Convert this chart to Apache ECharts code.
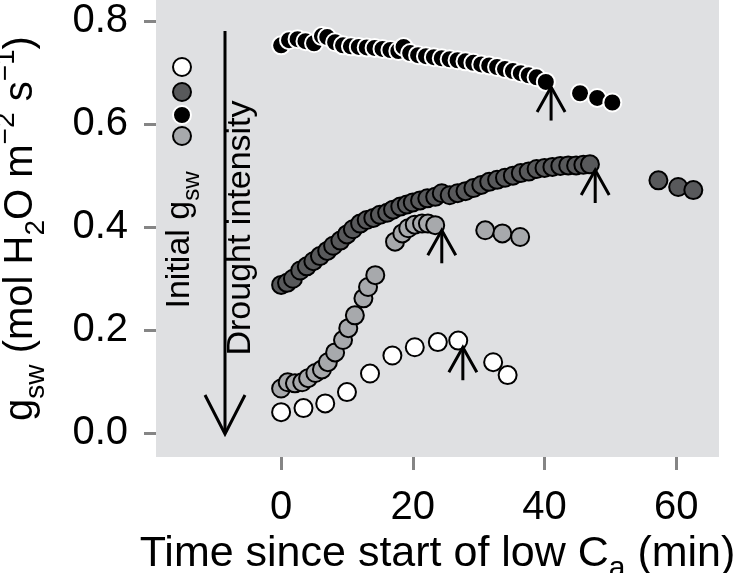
<!DOCTYPE html>
<html>
<head>
<meta charset="utf-8">
<script src="https://cdn.jsdelivr.net/npm/echarts@6.0.0/dist/echarts.min.js"></script>
<style>
  html, body { margin: 0; padding: 0; background: #fff; }
  #chart { width: 736px; height: 573px; }
</style>
</head>
<body>
<div id="chart"></div>
<script>
// gsw after switching to low Ca, four leaves (high -> low initial gsw)
const blackT = [0, 1.2, 2.5, 3.7, 5.0, 6.2, 7.0, 8.2, 9.4, 10.6, 11.8, 13.0, 14.2, 15.4, 16.6, 17.8, 18.6, 19.6, 20.8, 22.0, 23.2, 24.4, 25.6, 26.8, 28.0, 29.2, 30.4, 31.6, 32.8, 34.0, 35.2, 36.4, 37.6, 38.8, 40.2, 45.4, 48.0, 50.3];
const blackV = [0.753, 0.763, 0.765, 0.761, 0.757, 0.771, 0.769, 0.759, 0.753, 0.751, 0.750, 0.749, 0.748, 0.746, 0.744, 0.742, 0.750, 0.738, 0.734, 0.732, 0.730, 0.728, 0.726, 0.724, 0.722, 0.719, 0.716, 0.714, 0.711, 0.707, 0.703, 0.699, 0.695, 0.691, 0.682, 0.660, 0.651, 0.642];

const darkT = [0, 0.9, 1.8, 2.9, 3.9, 4.9, 5.9, 7.0, 7.9, 9.0, 10.0, 10.9, 12.0, 13.0, 14.0, 15.0, 16.1, 17.0, 18.1, 19.1, 20.0, 21.1, 22.2, 23.4, 24.4, 25.6, 26.8, 28.0, 29.2, 30.4, 31.6, 32.8, 34.0, 35.2, 36.4, 37.6, 38.8, 40.0, 41.2, 42.4, 43.6, 44.8, 45.9, 46.9, 57.3, 60.3, 62.6];
const darkV = [0.288, 0.292, 0.300, 0.316, 0.324, 0.334, 0.344, 0.354, 0.364, 0.374, 0.386, 0.396, 0.407, 0.414, 0.418, 0.424, 0.428, 0.434, 0.440, 0.444, 0.448, 0.452, 0.456, 0.459, 0.466, 0.462, 0.466, 0.470, 0.476, 0.482, 0.488, 0.492, 0.496, 0.500, 0.505, 0.508, 0.513, 0.515, 0.517, 0.519, 0.520, 0.520, 0.521, 0.522, 0.491, 0.478, 0.472];

const lightT = [0, 1.0, 2.1, 3.2, 4.1, 5.2, 6.2, 7.1, 8.2, 9.4, 10.2, 11.2, 12.5, 13.2, 14.3, 17.3, 18.4, 19.3, 20.3, 21.4, 22.3, 23.4, 31.0, 33.6, 36.3];
const lightV = [0.087, 0.099, 0.097, 0.099, 0.107, 0.117, 0.124, 0.138, 0.157, 0.181, 0.204, 0.229, 0.262, 0.284, 0.307, 0.372, 0.388, 0.398, 0.405, 0.407, 0.407, 0.404, 0.394, 0.388, 0.381];

const whiteT = [0, 3.4, 6.7, 10.0, 13.5, 16.9, 20.3, 23.8, 26.9, 32.2, 34.4];
const whiteV = [0.041, 0.049, 0.058, 0.080, 0.116, 0.151, 0.167, 0.177, 0.180, 0.138, 0.113];

// arrows marking the end of each run: time, tip, tail
const arrowT = [41.0, 47.7, 24.4, 27.6];
const arrowTip = [0.672, 0.511, 0.394, 0.167];
const arrowBase = [0.607, 0.447, 0.330, 0.103];

const xTicks = [0, 20, 40, 60];
const yTicks = [0, 0.2, 0.4, 0.6, 0.8];

const zip = (a, b) => a.map((v, i) => [v, b[i]]);

const font = "'Liberation Sans', Arial, Helvetica, sans-serif";
let myChart = echarts.init(document.getElementById("chart"));

function dots(data, fill, edge) {
  return {
    type: "scatter",
    data: data,
    symbolSize: 18,
    itemStyle: { color: fill, borderColor: edge, borderWidth: 2, opacity: 1 },
    emphasis: { disabled: true },
    z: 3,
  };
}

myChart.setOption({
  animation: false,
  grid: {
    left: 156,
    right: 17,
    top: 0,
    bottom: 116,
    containLabel: false,
    outerBoundsMode: "none",
    show: true,
    backgroundColor: "#dfe0e2",
    borderWidth: 0,
  },
  xAxis: {
    type: "value",
    min: -19,
    max: 66.5,
    axisLine: { show: false, onZero: false },
    splitLine: { show: false },
    axisTick: {
      customValues: xTicks,
      length: 13,
      lineStyle: { color: "#858585", width: 3 },
    },
    axisLabel: {
      customValues: xTicks,
      margin: 31,
      color: "#000",
      fontSize: 40,
      fontFamily: "'Liberation Sans Narrow', 'Liberation Sans', Arial, sans-serif",
    },
    name: "{n|Time since start of low C}{sub|a}{n| (min)}",
    nameLocation: "middle",
    nameGap: 64,
    nameTextStyle: {
      rich: {
        n: { fontSize: 43, lineHeight: 58, color: "#000", fontFamily: font },
        sub: { fontSize: 30, lineHeight: 58, verticalAlign: "bottom", color: "#000", fontFamily: font },
      },
    },
  },
  yAxis: {
    type: "value",
    min: -0.046,
    max: 0.841,
    axisLine: { show: false, onZero: false },
    splitLine: { show: false },
    axisTick: {
      customValues: yTicks,
      length: 12,
      lineStyle: { color: "#858585", width: 3 },
    },
    axisLabel: {
      customValues: yTicks,
      formatter: (v) => v.toFixed(1),
      margin: 28,
      color: "#000",
      fontSize: 40,
      fontFamily: font,
    },
    name: "{n|g}{sub|sw}{n| (mol H}{sub|2}{n|O m}{sup|−2}{n| s}{sup|−1}{n|)}",
    nameLocation: "middle",
    nameRotate: 90,
    nameGap: 106,
    nameTextStyle: {
      rich: {
        n: { fontSize: 40, lineHeight: 58, color: "#000", fontFamily: font },
        sub: { fontSize: 28, lineHeight: 58, verticalAlign: "bottom", color: "#000", fontFamily: font },
        sup: { fontSize: 28, lineHeight: 58, verticalAlign: "top", color: "#000", fontFamily: font },
      },
    },
  },
  graphic: [
    // drought-intensity arrow and the key circles
    { type: "line", shape: { x1: 225, y1: 31, x2: 225, y2: 433 }, style: { stroke: "#000", lineWidth: 3 } },
    { type: "polyline", shape: { points: [[205, 395], [225, 434], [245, 395]] }, style: { stroke: "#000", lineWidth: 3, fill: null } },
    {
      type: "text", x: 241, y: 228, rotation: Math.PI / 2,
      style: { text: "Drought intensity", fontSize: 34, fontFamily: font, fill: "#000", align: "center", verticalAlign: "middle" },
    },
    {
      type: "text", x: 180, y: 240, rotation: Math.PI / 2,
      style: {
        text: "{n|Initial g}{sub|sw}",
        align: "center",
        verticalAlign: "middle",
        rich: {
          n: { fontSize: 34, lineHeight: 48, fill: "#000", fontFamily: font },
          sub: { fontSize: 24, lineHeight: 48, verticalAlign: "bottom", fill: "#000", fontFamily: font },
        },
      },
    },
    { type: "circle", shape: { cx: 182, cy: 67, r: 9 }, style: { fill: "#fff", stroke: "#000", lineWidth: 2 } },
    { type: "circle", shape: { cx: 182, cy: 92, r: 9 }, style: { fill: "#58595b", stroke: "#000", lineWidth: 2 } },
    { type: "circle", shape: { cx: 182, cy: 115, r: 9 }, style: { fill: "#000", stroke: "#fff", lineWidth: 2 } },
    { type: "circle", shape: { cx: 182, cy: 136, r: 9 }, style: { fill: "#a7a9ac", stroke: "#000", lineWidth: 2 } },
  ],
  series: [
    dots(zip(blackT, blackV), "#000", "#fff"),
    dots(zip(darkT, darkV), "#58595b", "#000"),
    dots(zip(lightT, lightV), "#a7a9ac", "#000"),
    dots(zip(whiteT, whiteV), "#fff", "#000"),
    {
      type: "custom",
      data: arrowT.map((t, i) => [t, arrowTip[i], arrowBase[i]]),
      z: 5,
      renderItem(params, api) {
        const tip = api.coord([api.value(0), api.value(1)]);
        const tail = api.coord([api.value(0), api.value(2)]);
        return {
          type: "group",
          children: [
            { type: "line", shape: { x1: tip[0], y1: tip[1], x2: tail[0], y2: tail[1] }, style: { stroke: "#000", lineWidth: 3 } },
            {
              type: "polyline",
              shape: { points: [[tip[0] - 14, tip[1] + 25], [tip[0], tip[1]], [tip[0] + 14, tip[1] + 25]] },
              style: { stroke: "#000", lineWidth: 3, fill: null },
            },
          ],
        };
      },
    },
  ],
});

window.addEventListener("resize", () => {
  myChart.resize();
});
</script>
</body>
</html>
